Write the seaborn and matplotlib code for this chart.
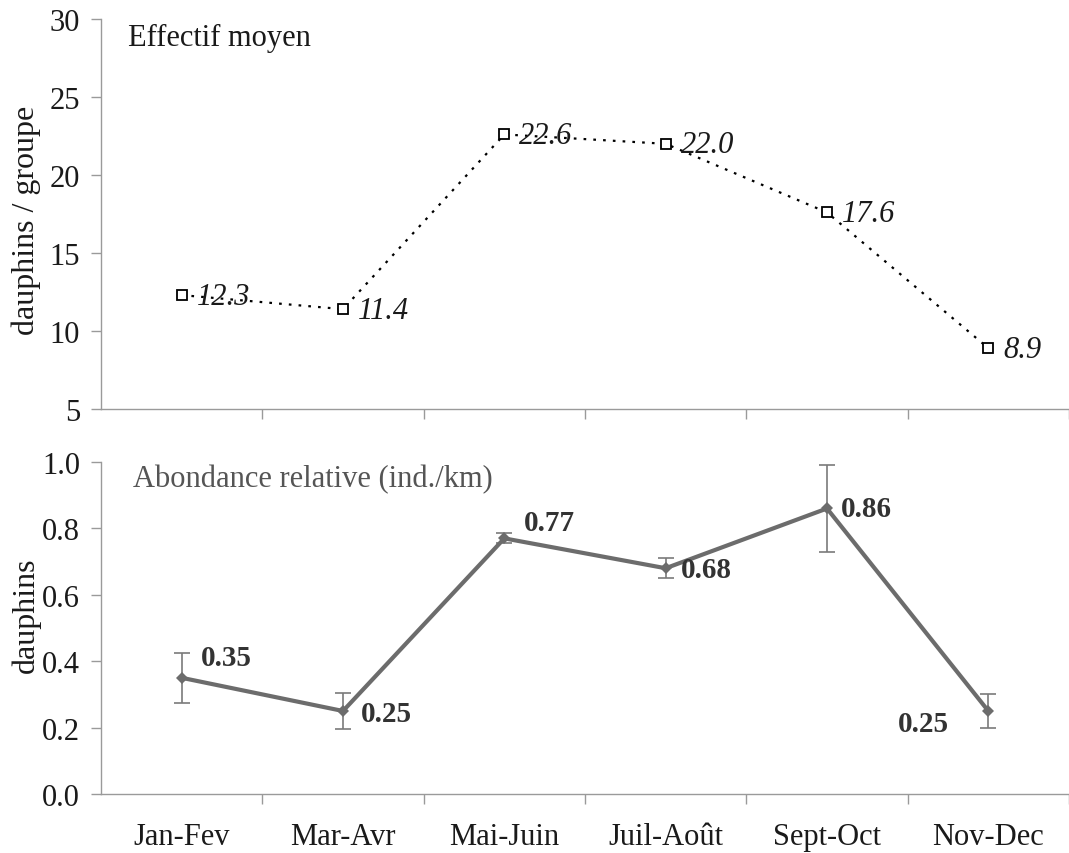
import matplotlib
matplotlib.use("Agg")
import matplotlib.pyplot as plt
import seaborn as sns
import pandas as pd
import numpy as np
from matplotlib.ticker import MultipleLocator, FixedLocator, FormatStrFormatter

sns.set_theme(style="white")
plt.rcParams["font.family"] = ["Liberation Serif", "DejaVu Serif"]

# Bimonthly periods
periods = ["Jan-Fev", "Mar-Avr", "Mai-Juin", "Juil-Août", "Sept-Oct", "Nov-Dec"]

# Mean group size (dolphins per group)
group_size = [12.3, 11.4, 22.6, 22.0, 17.6, 8.9]

# Relative abundance (individuals per km) and its error
abundance = [0.35, 0.25, 0.77, 0.68, 0.86, 0.25]
abundance_err = [0.075, 0.055, 0.015, 0.03, 0.13, 0.05]

df = pd.DataFrame({
    "periode": periods,
    "idx": np.arange(len(periods)),
    "effectif": group_size,
    "abondance": abundance,
    "err": abundance_err,
})

W, H = 1069, 854
fig = plt.figure(figsize=(W / 100, H / 100), dpi=100)

left = 101 / W
right = 1.0
ax1 = fig.add_axes([left, 1 - 410 / H, right - left, (410 - 20) / H])
ax2 = fig.add_axes([left, 1 - 795 / H, right - left, (795 - 463) / H])

spine_col = "#9a9a9a"
fs = 22
txt_col = "#1a1a1a"

for ax in (ax1, ax2):
    ax.set_xlim(-0.5, len(periods) - 0.5)
    for s in ("top", "right"):
        ax.spines[s].set_visible(False)
    for s in ("left", "bottom"):
        ax.spines[s].set_color(spine_col)
        ax.spines[s].set_linewidth(1.0)
    ax.xaxis.set_minor_locator(FixedLocator(np.arange(0.5, len(periods), 1.0)))
    ax.tick_params(axis="x", which="minor", direction="out", length=7,
                   width=1.0, color=spine_col, bottom=True)
    ax.tick_params(axis="x", which="major", length=0)
    ax.tick_params(axis="y", which="major", direction="out", length=7,
                   width=1.0, color=spine_col, left=True, labelsize=fs,
                   labelcolor=txt_col, pad=8)
    ax.set_facecolor("white")

# --- Top panel: mean group size ---
sns.lineplot(data=df, x="idx", y="effectif", ax=ax1, color="black",
             linestyle=(0, (1.2, 3.2)), linewidth=1.6, marker="s",
             markersize=6.5, markerfacecolor="white", markeredgecolor="black",
             markeredgewidth=1.3)
ax1.set_ylim(5, 30)
ax1.yaxis.set_major_locator(MultipleLocator(5))
ax1.set_xticks(df["idx"])
ax1.set_xticklabels([])
ax1.set_xlabel("")
ax1.set_ylabel("dauphins / groupe", fontsize=23, color=txt_col)
ax1.yaxis.set_label_coords(-0.062, 0.487)
ax1.text(128 / W, 1 - 38 / H, "Effectif moyen", transform=fig.transFigure,
         fontsize=fs, color=txt_col, va="center", ha="left")

for i, v in zip(df["idx"], df["effectif"]):
    ax1.annotate(f"{v:.1f}", (i, v), xytext=(15, -1), textcoords="offset pixels",
                 fontsize=fs, style="italic", color=txt_col,
                 va="center", ha="left")

# --- Bottom panel: relative abundance ---
line_col = "#6c6c6c"
ax2.errorbar(df["idx"], df["abondance"], yerr=df["err"], fmt="none",
             ecolor="#7a7a7a", elinewidth=1.2, capsize=6, capthick=1.2, zorder=2)
sns.lineplot(data=df, x="idx", y="abondance", ax=ax2, color=line_col,
             linewidth=3.0, marker="D", markersize=6, markeredgewidth=0,
             markerfacecolor=line_col, zorder=3)
ax2.set_ylim(0, 1.0)
ax2.yaxis.set_major_locator(MultipleLocator(0.2))
ax2.yaxis.set_major_formatter(FormatStrFormatter("%.1f"))
ax2.set_xticks(df["idx"])
ax2.set_xticklabels(periods, fontsize=fs, color=txt_col)
ax2.tick_params(axis="x", which="major", pad=20)
ax2.set_xlabel("")
ax2.set_ylabel("dauphins", fontsize=23, color=txt_col)
ax2.yaxis.set_label_coords(-0.062, 0.54)
ax2.text(133 / W, 1 - 480 / H, "Abondance relative (ind./km)",
         transform=fig.transFigure, fontsize=fs, color="#555555",
         va="center", ha="left")

offsets = [(19, 20, "left"), (18, -3, "left"), (20, 16, "left"),
           (15, -1, "left"), (14, 0, "left"), (-39, -12, "right")]
for (i, v), (dx, dy, ha) in zip(zip(df["idx"], df["abondance"]), offsets):
    ax2.annotate(f"{v:.2f}", (i, v), xytext=(dx, dy), textcoords="offset pixels",
                 fontsize=21, fontweight="bold", color="#333333",
                 va="center", ha=ha)

fig.savefig("out.png", dpi=100, facecolor="white")
